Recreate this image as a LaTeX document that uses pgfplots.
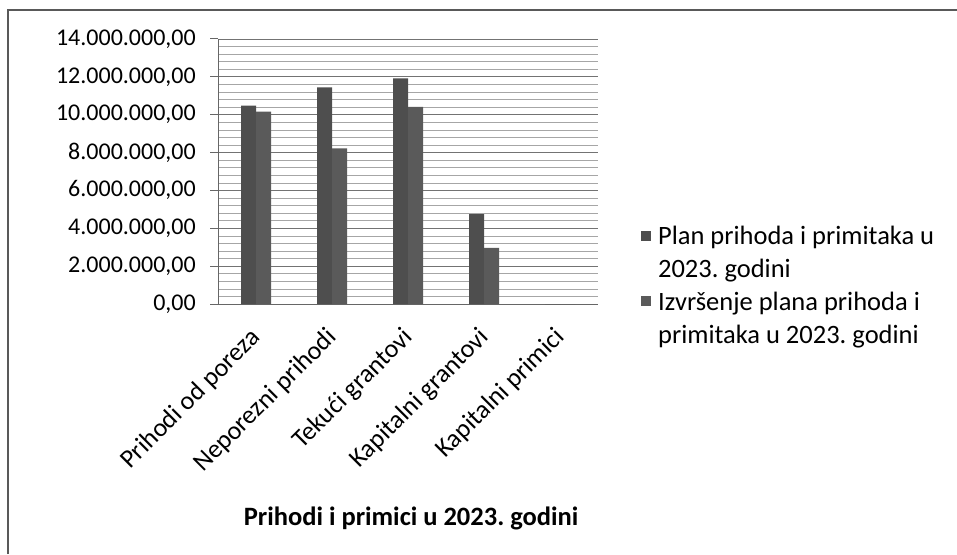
\documentclass[border=0pt]{standalone}
\usepackage{fontspec}
\setmainfont{Carlito}
\usepackage{pgfplots}
\pgfplotsset{compat=1.18}
\definecolor{planc}{HTML}{4E4E4E}
\definecolor{izvc}{HTML}{5A5A5A}
\frenchspacing
\begin{document}
\begin{tikzpicture}
\useasboundingbox (0,0) rectangle (957pt,554pt);
\draw[black!65, line width=1.8pt] (8pt,0pt) -- (8pt,544pt) -- (957pt,544pt);
\begin{axis}[
  at={(218pt,250pt)}, anchor=south west,
  scale only axis, width=380pt, height=265pt,
  font=\fontsize{24}{31}\selectfont,
  ybar=0pt, bar width=15pt,
  xmin=-0.5, xmax=4.5,
  ymin=0, ymax=14000000,
  scaled y ticks=false,
  xtick={0,1,2,3,4},
  xticklabels={Prihodi od poreza,Neporezni prihodi,Tekući grantovi,Kapitalni grantovi,Kapitalni primici},
  x tick label style={rotate=45, anchor=north east, inner sep=0pt, xshift=-14.5pt, yshift=-4.5pt, font=\fontsize{26}{31}\selectfont},
  major x tick style={draw=none},
  ytick={0,2000000,4000000,6000000,8000000,10000000,12000000,14000000},
  yticklabels={{0,00},{2.000.000,00},{4.000.000,00},{6.000.000,00},{8.000.000,00},{10.000.000,00},{12.000.000,00},{14.000.000,00}},
  y tick label style={inner sep=0pt, xshift=-14pt},
  minor y tick num=4,
  ytick pos=left,
  tick align=outside,
  major tick length=8pt,
  minor tick length=0pt,
  ymajorgrids, yminorgrids,
  major grid style={black!55, line width=0.8pt},
  minor grid style={black!35, line width=0.6pt},
  axis x line*=bottom, axis y line*=left,
  axis line style={black!60, line width=1pt, -},
  ytick style={black!60, line width=1pt},
  xlabel={\textbf{Prihodi i primici u 2023. godini}},
  xlabel style={at={(axis description cs:0.508,-0.808)}, anchor=center, font=\fontsize{26.5}{30}\selectfont},
  legend style={draw=none, fill=none, at={(axis description cs:1.105,0.31)}, anchor=north west,
    nodes={align=left, inner sep=2pt, inner xsep=7pt, font=\fontsize{26.5}{33}\selectfont}, row sep=9pt},
  legend cell align=left,
  clip=false,
]
\addplot[fill=planc, draw=none, legend image code/.code={\fill[planc] (0pt,12pt) rectangle (10pt,22pt);}]
  coordinates {(0,10480000) (1,11440000) (2,11920000) (3,4750000) (4,0)};
\addplot[fill=izvc, draw=none, legend image code/.code={\fill[izvc] (0pt,12pt) rectangle (10pt,22pt);}]
  coordinates {(0,10160000) (1,8220000) (2,10420000) (3,2970000) (4,0)};
\legend{Plan prihoda i primitaka u\\2023. godini, Izvršenje plana prihoda i\\primitaka u 2023. godini}
\end{axis}
\end{tikzpicture}
\end{document}
